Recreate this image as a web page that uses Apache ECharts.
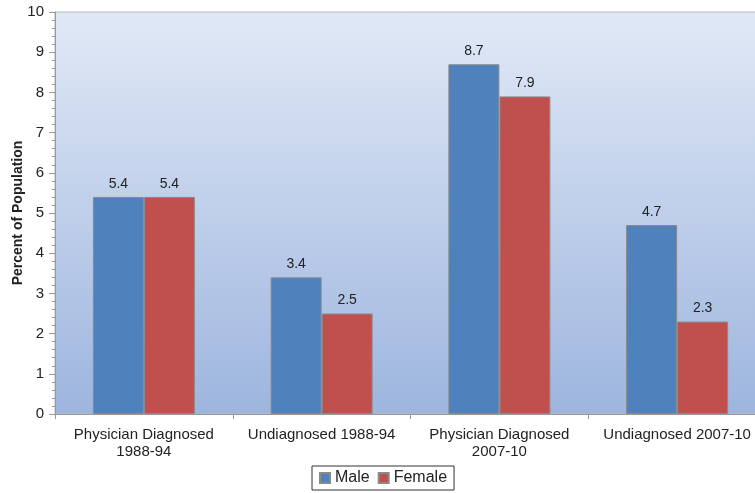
<!DOCTYPE html>
<html>
<head>
<meta charset="utf-8">
<script src="https://cdn.jsdelivr.net/npm/echarts@6/dist/echarts.min.js"></script>
<style>
    html, body { margin: 0; padding: 0; background: #fff; }
    #chart { width: 755px; height: 493px; }
</style>
</head>
<body>
<div id="chart"></div>
<script>
var categories = ['Physician Diagnosed\n1988-94', 'Undiagnosed 1988-94', 'Physician Diagnosed\n2007-10', 'Undiagnosed 2007-10'];
var maleValues = [5.4, 3.4, 8.7, 4.7];
var femaleValues = [5.4, 2.5, 7.9, 2.3];

var chart = echarts.init(document.getElementById('chart'));

var labelStyle = { show: true, position: 'top', color: '#222', fontSize: 14, fontFamily: 'Liberation Sans, Arial', distance: 6 };

chart.setOption({
    animation: false,
    color: ['#4f81bd', '#c0504d'],
    grid: {
        left: 55, right: -11, top: 12, bottom: 79,
        outerBoundsMode: 'none',
        show: true,
        borderWidth: 1,
        borderColor: '#b8b8b8',
        backgroundColor: new echarts.graphic.LinearGradient(0, 0, 0, 1, [
            { offset: 0, color: '#e1e9f6' },
            { offset: 1, color: '#9db5de' }
        ])
    },
    legend: {
        data: ['Male', 'Female'],
        bottom: 3,
        left: 312,
        icon: 'rect',
        itemWidth: 10,
        itemHeight: 10,
        itemGap: 8,
        borderColor: '#333',
        borderWidth: 1,
        padding: [4, 7, 4, 7],
        textStyle: { color: '#222', fontSize: 16, fontFamily: 'Liberation Sans, Arial' }
    },
    xAxis: {
        type: 'category',
        data: categories,
        axisLine: { lineStyle: { color: '#999' } },
        axisTick: { show: true, length: 5, lineStyle: { color: '#999' } },
        axisLabel: { color: '#222', fontSize: 15, fontFamily: 'Liberation Sans, Arial', margin: 12, lineHeight: 17, interval: 0 }
    },
    yAxis: {
        type: 'value',
        min: 0,
        max: 10,
        interval: 1,
        name: 'Percent of Population',
        nameLocation: 'middle',
        nameGap: 30,
        nameMoveOverlap: false,
        nameTextStyle: { color: '#222', fontSize: 14, fontWeight: 'bold', fontFamily: 'Liberation Sans, Arial' },
        axisLine: { show: true, lineStyle: { color: '#999' } },
        axisTick: { show: true, length: 6, lineStyle: { color: '#999' } },
        minorTick: { show: true, splitNumber: 5, length: 3, lineStyle: { color: '#999' } },
        splitLine: { show: false },
        axisLabel: { color: '#222', fontSize: 15, fontFamily: 'Liberation Sans, Arial', margin: 11 }
    },
    series: [
        {
            type: 'bar',
            name: 'Male',
            data: maleValues,
            barWidth: 51,
            barGap: '0%',
            itemStyle: { borderColor: '#8a8a8a', borderWidth: 1 },
            label: labelStyle
        },
        {
            type: 'bar',
            name: 'Female',
            data: femaleValues,
            barWidth: 51,
            barGap: '0%',
            itemStyle: { borderColor: '#8a8a8a', borderWidth: 1 },
            label: labelStyle
        }
    ]
});
</script>
</body>
</html>
